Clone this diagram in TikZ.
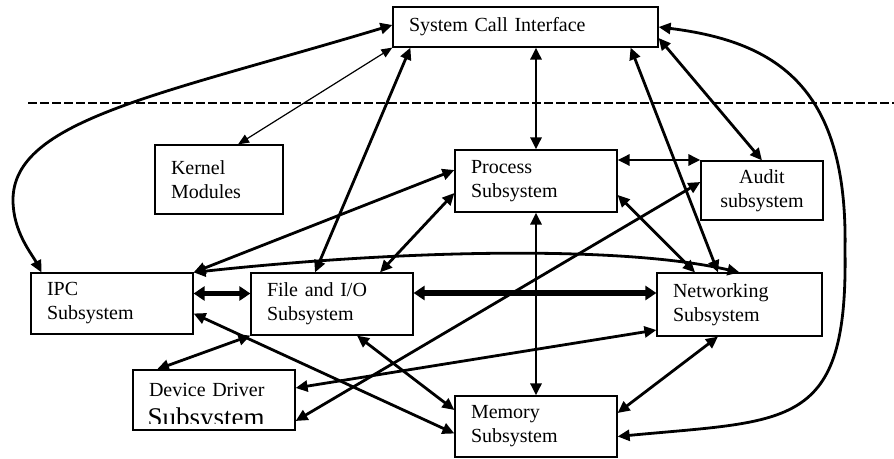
\documentclass[tikz,border=0pt]{standalone}
\usepackage{fontspec}
\setmainfont{Liberation Serif}
\usetikzlibrary{arrows.meta}

\begin{document}
\begin{tikzpicture}[>={Triangle[length=12bp,width=11bp]},
  box/.style={draw,rectangle,line width=1.2bp,fill=white,inner xsep=16bp,inner ysep=0pt,align=left,font=\fontsize{20bp}{24bp}\selectfont},
  link/.style={<->,line width=2.8bp},
  thinlink/.style={<->,line width=1.2bp,>={Triangle[length=11bp,width=9bp]}},
  boldlink/.style={<->,line width=5.5bp,>={Triangle[length=11bp,width=14bp]}},
  sepline/.style={line width=2.6bp,dash pattern=on 9bp off 3bp}]
  \useasboundingbox (0bp,0bp) rectangle (894bp,459bp);
  \draw [sepline] (28bp,356bp) -- (894bp,356bp);
  \node (SCI) at (525.5bp,432bp) [box,text width=233bp,minimum height=40bp] {System Call Interface};
  \node (Kernel) at (219bp,279.5bp) [box,text width=96bp,minimum height=69bp] {Kernel\\Modules};
  \node (Process) at (536bp,278bp) [box,text width=130bp,minimum height=62bp] {Process\\Subsystem};
  \node (Audit) at (762bp,268.5bp) [box,text width=90bp,minimum height=59bp,align=center] {Audit\\subsystem};
  \node (IPC) at (112bp,155.5bp) [box,text width=130bp,minimum height=61bp] {IPC\\Subsystem};
  \node (FileIO) at (332bp,155bp) [box,text width=130bp,minimum height=62bp] {File and I/O\\Subsystem};
  \node (Net) at (739.5bp,154.5bp) [box,text width=133bp,minimum height=63bp] {Networking\\Subsystem};
  \node (Device) at (214bp,59bp) [box,text width=130bp,minimum height=60bp,text height=14bp,text depth=20bp] {Device Driver};
  \node (Memory) at (536bp,32.5bp) [box,text width=130bp,minimum height=61bp] {Memory\\Subsystem};
  % second line of the driver box is cut off at the bottom
  \begin{scope}
    \clip (Device.north west) rectangle ([yshift=7bp]Device.south east);
    \node (DevSub) at ([xshift=15bp,yshift=4bp]Device.south west) [anchor=base west,inner sep=0pt,font=\fontsize{27bp}{27bp}\selectfont] {Subsystem};
  \end{scope}
  \draw [link] ([yshift=2bp]SCI.west) .. controls (160bp,364bp) and (13bp,339bp) .. (13bp,259bp) .. controls (13bp,227bp) and (32bp,205bp) .. ([xshift=11bp]IPC.north west);
  \draw [thinlink] (SCI.south west) -- ([xshift=19bp]Kernel.north);
  \draw [link] ([xshift=18bp]SCI.south west) -- ([xshift=-17bp]FileIO.north);
  \draw [link] (Process.north) -- (Process.north |- SCI.south);
  \draw [link] ([xshift=-28bp]SCI.south east) -- ([xshift=-21.5bp]Net.north);
  \draw [link] ([yshift=-11bp]SCI.east) -- (Audit.north);
  \draw [link] (SCI.east) .. controls (780bp,417bp) and (848bp,369bp) .. (845bp,209bp) .. controls (848bp,29bp) and (790bp,39bp) .. ([yshift=-10bp]Memory.east);
  \draw [link] ([yshift=21bp]Process.east) -- ([yshift=21bp]Process.east -| Audit.west);
  \draw [link] ([yshift=11bp]Process.west) -- (IPC.north east);
  \draw [link] ([yshift=-12bp]Process.west) -- ([xshift=48bp]FileIO.north);
  \draw [link] ([yshift=-14bp]Process.east) -- ([xshift=-44.5bp]Net.north);
  \draw [link] (Process.south) -- (Memory.north);
  \draw [link] (IPC.north east) .. controls (400bp,209bp) and (620bp,214bp) .. (Net.north);
  \draw [boldlink] ([yshift=10bp]IPC.east) -- ([yshift=10bp]IPC.east -| FileIO.west);
  \draw [boldlink] ([yshift=11bp]FileIO.east) -- ([yshift=11bp]FileIO.east -| Net.west);
  \draw [link] ([yshift=-10bp]IPC.east) -- ([yshift=-7bp]Memory.west);
  \draw [link] (FileIO.south west) -- ([xshift=-57bp]Device.north);
  \draw [link] ([xshift=25bp]FileIO.south) -- ([yshift=16.5bp]Memory.west);
  \draw [link] ([yshift=12bp]Device.east) -- ([yshift=-25.5bp]Net.west);
  \draw [link] ([yshift=-21bp]Device.east) -- ([yshift=8.5bp]Audit.west);
  \draw [link] ([xshift=-21.5bp]Net.south) -- ([yshift=13.5bp]Memory.east);
\end{tikzpicture}
\end{document}
